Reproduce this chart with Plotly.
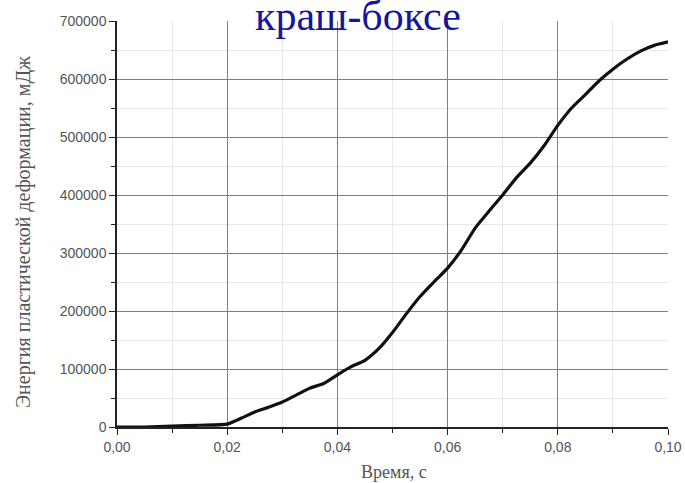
import plotly.graph_objects as go

time_s = [0, 0.005, 0.01, 0.015, 0.02, 0.0225, 0.025, 0.0275, 0.03, 0.0325, 0.035, 0.0375,
          0.04, 0.0425, 0.045, 0.0475, 0.05, 0.0525, 0.055, 0.0575, 0.06, 0.0625, 0.065,
          0.0675, 0.07, 0.0725, 0.075, 0.0775, 0.08, 0.0825, 0.085, 0.0875, 0.09, 0.0925,
          0.095, 0.0975, 0.1]
energy_mJ = [0, 0, 1500, 3000, 5000, 15000, 26000, 34000, 43000, 55000, 67000, 75000,
             90000, 104000, 115000, 135000, 163000, 195000, 225000, 250000, 274000, 305000, 343000,
             372000, 400000, 430000, 455000, 485000, 520000, 550000, 573000, 597000, 617000, 634000,
             648000, 658000, 664000]

x_tickvals = [0, 0.02, 0.04, 0.06, 0.08, 0.10]
x_ticktext = ["0,00", "0,02", "0,04", "0,06", "0,08", "0,10"]
y_tickvals = [0, 100000, 200000, 300000, 400000, 500000, 600000, 700000]
y_ticktext = ["0", "100000", "200000", "300000", "400000", "500000", "600000", "700000"]

title_text = "краш-боксе"
x_title = "Время, с"
y_title = "Энергия пластической деформации, мДж"

fig = go.Figure()
fig.add_trace(go.Scatter(x=time_s, y=energy_mJ, mode="lines",
                         line=dict(color="#111111", width=3.2, shape="spline", smoothing=0.6),
                         showlegend=False))

tick_font = dict(family="Liberation Sans, Arial", size=14, color="#555555")
serif = "Liberation Serif, Times New Roman"
fig.update_layout(
    width=685, height=483,
    margin=dict(l=117, r=17, t=21, b=56, autoexpand=False),
    paper_bgcolor="white", plot_bgcolor="white",
    xaxis=dict(range=[0, 0.1], tickvals=x_tickvals, ticktext=x_ticktext, automargin=False,
               showline=True, linecolor="#222222", linewidth=1.5,
               ticks="outside", ticklen=6, tickcolor="#222222",
               showgrid=True, gridcolor="#7f7f7f", gridwidth=1, zeroline=False,
               minor=dict(dtick=0.01, showgrid=True, gridcolor="#e8e8e8", ticks="outside",
                          ticklen=4, tickcolor="#222222"),
               tickfont=tick_font),
    yaxis=dict(range=[0, 700000], tickvals=y_tickvals, ticktext=y_ticktext, automargin=False,
               showline=True, linecolor="#222222", linewidth=1.5,
               ticks="outside", ticklen=6, tickcolor="#222222",
               showgrid=True, gridcolor="#7f7f7f", gridwidth=1, zeroline=False,
               minor=dict(dtick=50000, showgrid=True, gridcolor="#e8e8e8", ticks="outside",
                          ticklen=4, tickcolor="#222222"),
               tickfont=tick_font),
)
fig.add_annotation(text=title_text, xref="paper", yref="paper", x=0.437, y=1.0,
                   xanchor="center", yanchor="bottom", yshift=-20, showarrow=False,
                   font=dict(family=serif, size=42, color="#16169a"))
fig.add_annotation(text=x_title, xref="paper", yref="paper", x=0.502, y=0,
                   xanchor="center", yanchor="middle", yshift=-45, showarrow=False,
                   font=dict(family=serif, size=18, color="#555555"))
fig.add_annotation(text=y_title, xref="paper", yref="paper", x=0, y=0.48,
                   xanchor="center", yanchor="middle", xshift=-94, textangle=-90,
                   showarrow=False, font=dict(family=serif, size=20, color="#555555"))

fig.write_html("out.html", config={"displayModeBar": False},
               post_script="document.body.style.margin='0';document.body.style.overflow='hidden';")
